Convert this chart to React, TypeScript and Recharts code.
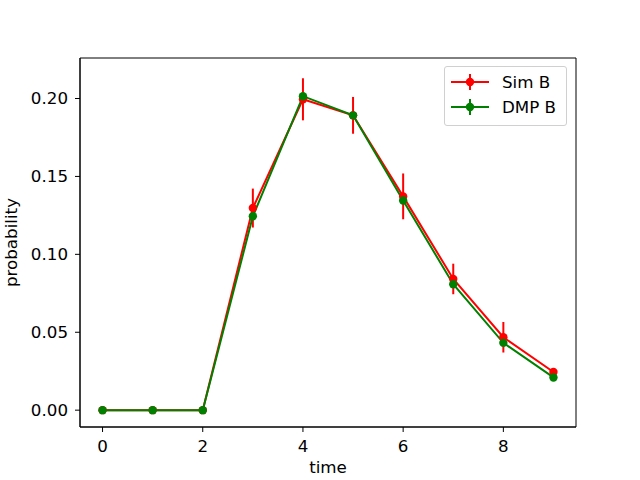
import React from 'react';
import { LineChart, Line, XAxis, YAxis, ErrorBar, Legend, ReferenceArea } from 'recharts';

const times = [0, 1, 2, 3, 4, 5, 6, 7, 8, 9];
const simB = [0, 0, 0, 0.1297, 0.1995, 0.1892, 0.1372, 0.0842, 0.0468, 0.0245];
const simBErr = [0, 0, 0, 0.0125, 0.0135, 0.0118, 0.0147, 0.0098, 0.0098, 0.0015];
const dmpB = [0, 0, 0, 0.1244, 0.2015, 0.1892, 0.1346, 0.0808, 0.0432, 0.021];
const dmpBErr = [0, 0, 0, 0, 0, 0, 0, 0, 0, 0];

const xTicks = [0, 2, 4, 6, 8];
const yTicks = [0, 0.05, 0.1, 0.15, 0.2];

const data = times.map((t, i) => ({
  time: t,
  simB: simB[i],
  simBErr: simBErr[i],
  dmpB: dmpB[i],
  dmpBErr: dmpBErr[i],
}));

const X_DOMAIN = [-0.45, 9.45];
const Y_DOMAIN = [-0.0108, 0.226];
const FONT = 'DejaVu Sans, sans-serif';
const FS = 16.7;

const legendItems = [
  { name: 'Sim B', color: '#ff0000' },
  { name: 'DMP B', color: '#008000' },
];

const LegendBox = () => (
  <div
    style={{
      boxSizing: 'border-box',
      width: 123,
      height: 60,
      border: '1px solid #d0d0d0',
      borderRadius: 3,
      background: 'rgba(255,255,255,0.8)',
      padding: '2px 0 0 6px',
      fontFamily: FONT,
      fontSize: FS,
      color: '#000',
    }}
  >
    {legendItems.map((it) => (
      <div key={it.name} style={{ display: 'flex', alignItems: 'center', height: 25.5 }}>
        <svg width={38} height={20} style={{ marginRight: 13 }}>
          <line x1={0} y1={10} x2={38} y2={10} stroke={it.color} strokeWidth={2} />
          <line x1={19} y1={2} x2={19} y2={18} stroke={it.color} strokeWidth={2} />
          <circle cx={19} cy={10} r={4.2} fill={it.color} />
        </svg>
        <span>{it.name}</span>
      </div>
    ))}
  </div>
);

export default function App() {
  return (
    <div style={{ position: 'absolute', left: 0, top: 0, width: 640, height: 480, background: '#fff' }}>
      <LineChart width={640} height={480} data={data} margin={{ top: 58, right: 64, bottom: 0, left: 0 }}>
        <XAxis
          dataKey="time"
          type="number"
          domain={X_DOMAIN}
          ticks={xTicks}
          allowDataOverflow
          height={53}
          stroke="#000"
          tickSize={5}
          tickMargin={8}
          tick={{ fill: '#000', fontSize: FS, fontFamily: FONT }}
          label={{ value: 'time', position: 'insideBottom', offset: 7, fill: '#000', fontSize: FS, fontFamily: FONT }}
        />
        <YAxis
          type="number"
          domain={Y_DOMAIN}
          ticks={yTicks}
          allowDataOverflow
          width={80}
          stroke="#000"
          tickSize={5}
          tickMargin={7}
          tickFormatter={(v: number) => v.toFixed(2)}
          tick={{ fill: '#000', fontSize: FS, fontFamily: FONT }}
          label={{ value: 'probability', angle: -90, position: 'insideLeft', offset: 11, fill: '#000', fontSize: FS, fontFamily: FONT, style: { textAnchor: 'middle' } }}
        />
        <ReferenceArea
          x1={X_DOMAIN[0]}
          x2={X_DOMAIN[1]}
          y1={Y_DOMAIN[0]}
          y2={Y_DOMAIN[1]}
          fill="none"
          stroke="#000"
          strokeWidth={1}
          ifOverflow="visible"
        />
        <Line
          dataKey="simB"
          name="Sim B"
          stroke="#ff0000"
          strokeWidth={2}
          dot={{ r: 4.2, fill: '#ff0000', stroke: '#ff0000', strokeWidth: 0 }}
          isAnimationActive={false}
        >
          <ErrorBar dataKey="simBErr" direction="y" width={0} stroke="#ff0000" strokeWidth={2} />
        </Line>
        <Line
          dataKey="dmpB"
          name="DMP B"
          stroke="#008000"
          strokeWidth={2}
          dot={{ r: 4.2, fill: '#008000', stroke: '#008000', strokeWidth: 0 }}
          isAnimationActive={false}
        >
          <ErrorBar dataKey="dmpBErr" direction="y" width={0} stroke="#008000" strokeWidth={2} />
        </Line>
        <Legend
          layout="vertical"
          align="center"
          verticalAlign="middle"
          content={() => <LegendBox />}
          wrapperStyle={{ left: 444, top: 66, width: 'auto' }}
        />
      </LineChart>
    </div>
  );
}
